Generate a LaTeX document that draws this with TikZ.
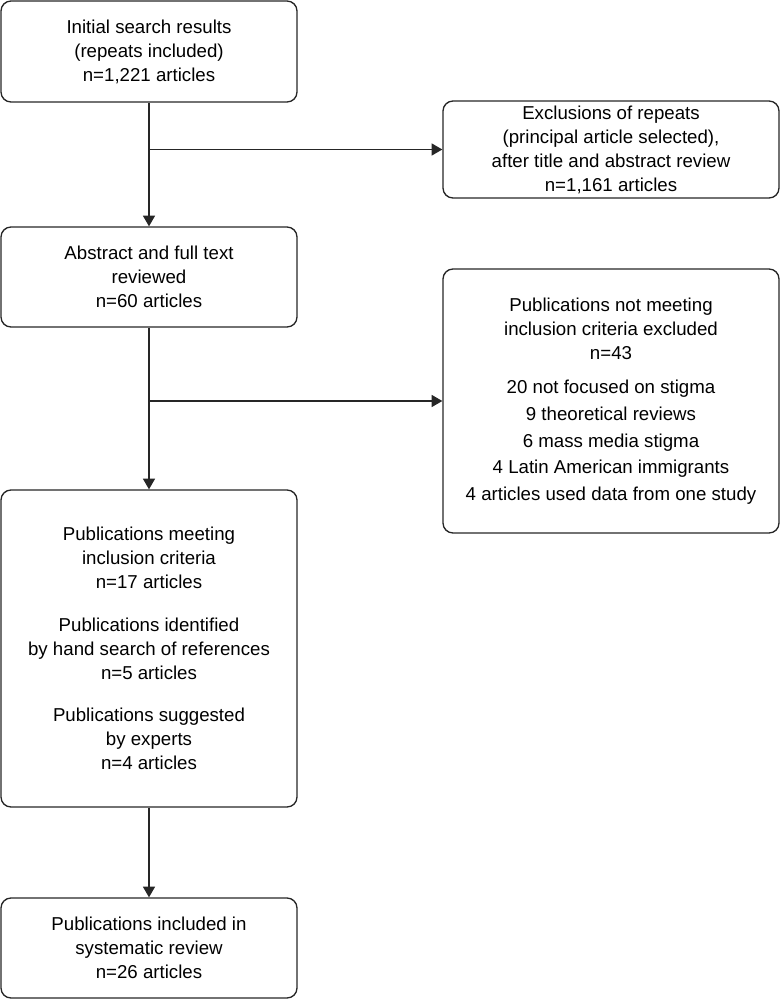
\documentclass[tikz,border=0pt]{standalone}
\usepackage{fontspec}
\setmainfont{Liberation Sans}
\usepackage{tikz}
\usetikzlibrary{positioning,calc,arrows.meta}

\begin{document}
\begin{tikzpicture}[
	x=0.75pt, y=-0.75pt,
	box/.style={draw=black!85, line width=1pt, rounded corners=7.5pt, align=center,
		font=\fontsize{14}{18}\selectfont, inner sep=0pt},
	mainbox/.style={box, minimum width=222pt},
	sidebox/.style={box, minimum width=252pt},
	arrow/.style={-{Triangle[width=9pt,length=8pt]}, black!85, line width=1pt}
	]
	\useasboundingbox (0,0) rectangle (781,1000);
	
	% ===== LEFT COLUMN =====
	\node[mainbox, minimum height=75.75pt] (init) at (149,51.5)
		{Initial search results\\(repeats included)\\n=1,221 articles};
	\node[mainbox, minimum height=75pt] (abstr) at (149,277)
		{Abstract and full text\\reviewed\\n=60 articles};
	\node[mainbox, minimum height=237.75pt] (meet) at (149,648.5)
		{Publications meeting\\inclusion criteria\\n=17 articles\\[14pt]
		 Publications identified\\by hand search of references\\n=5 articles\\[14pt]
		 Publications suggested\\by experts\\n=4 articles};
	\node[mainbox, minimum height=75pt] (incl) at (149,948)
		{Publications included in\\systematic review\\n=26 articles};
	
	% ===== RIGHT COLUMN (exclusions) =====
	\node[sidebox, minimum height=72.75pt] (excl) at (611,149.5)
		{Exclusions of repeats\\(principal article selected),\\after title and abstract review\\n=1,161 articles};
	\node[sidebox, minimum height=198pt] (notmeet) at (611,401)
		{Publications not meeting\\inclusion criteria excluded\\n=43\\[8pt]
		 20 not focused on stigma\\[2pt]
		 9 theoretical reviews\\[2pt]
		 6 mass media stigma\\[2pt]
		 4 Latin American immigrants\\[2pt]
		 4 articles used data from one study};
	
	% ===== ARROWS =====
	\coordinate (j1) at (init.south |- excl.west);
	\coordinate (j2) at (abstr.south |- notmeet.west);
	
	\draw[arrow] (init) -- (abstr);
	\draw[arrow] (j1) -- (excl);
	\draw[arrow] (abstr) -- (meet);
	\draw[arrow] (j2) -- (notmeet);
	\draw[arrow] (meet) -- (incl);
	
\end{tikzpicture}
\end{document}
